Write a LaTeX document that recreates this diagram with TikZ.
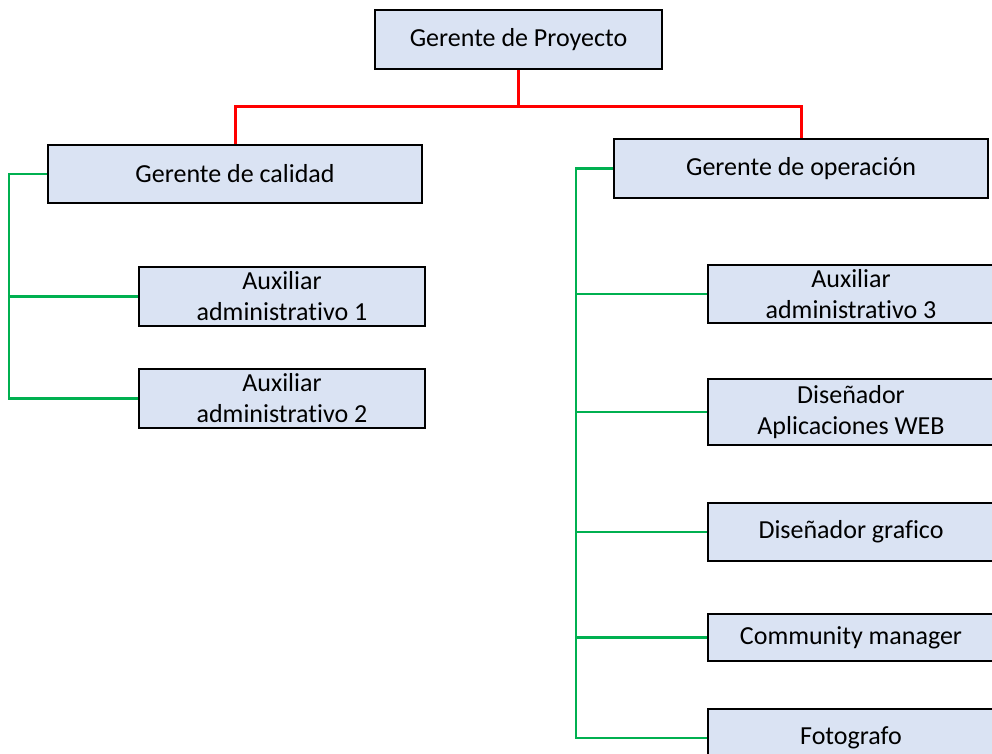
\documentclass[tikz,border=0pt]{standalone}
\usepackage{fontspec}
\setmainfont{Carlito}[Ligatures=NoCommon]
\usetikzlibrary{calc}
\definecolor{cajaazul}{HTML}{DAE3F3}
\definecolor{verdeorg}{HTML}{00B050}
\definecolor{rojoorg}{HTML}{FF0000}
\tikzset{
	caja/.style={draw=black, line width=2pt, fill=cajaazul, align=center, inner sep=0pt,
		font=\fontsize{26}{31}\selectfont},
	linearoja/.style={draw=rojoorg, line width=3pt},
	lineaverde/.style={draw=verdeorg, line width=2.2pt}
}
\begin{document}
\begin{tikzpicture}[x=1pt, y=-1pt]
			%%%%% START %%%%%
			
			\useasboundingbox (0, 0) rectangle (992, 753);
			\clip (0, 0) rectangle (992, 753);
			
			\coordinate (bus) at (518.5, 106);
			\coordinate (izq) at (9, 0);
			\coordinate (der) at (576, 0);
			
			\node[caja, minimum width=287, minimum height=59] (proy) at (518.5, 39.5) {Gerente de Proyecto};
			\node[caja, minimum width=374, minimum height=58] (cal) at (235, 174) {Gerente de calidad};
			\node[caja, minimum width=374, minimum height=59] (ope) at (801, 168.5) {Gerente de operación};
			
			\node[caja, minimum width=286, minimum height=59] (aux1) at (282, 296.5) {Auxiliar\\administrativo 1};
			\node[caja, minimum width=286, minimum height=59] (aux2) at (282, 398.5) {Auxiliar\\administrativo 2};
			
			\node[caja, minimum width=286, minimum height=58] (aux3) at (851, 294) {Auxiliar\\administrativo 3};
			\node[caja, minimum width=286, minimum height=66] (web) at (851, 412) {Diseñador\\Aplicaciones WEB};
			\node[caja, minimum width=286, minimum height=58] (graf) at (851, 532) {Diseñador grafico};
			\node[caja, minimum width=286, minimum height=47] (comm) at (851, 637.5) {Community manager};
			\node[caja, minimum width=286, minimum height=58] (foto) at (851, 738) {Fotografo};
			
			% rojo: proyecto a gerentes
			\draw[linearoja] (proy.south) -- (bus) -| (cal.north);
			\draw[linearoja] (bus) -| (ope.north);
			
			% verde: gerentes a auxiliares
			\draw[lineaverde] (cal.west) -- (cal.west -| izq) |- (aux2.west);
			\draw[lineaverde] (aux1.west -| izq) -- (aux1.west);
			
			\draw[lineaverde] (ope.west) -- (ope.west -| der) |- (foto.west);
			\foreach \n in {aux3, web, graf, comm}
				\draw[lineaverde] (\n.west -| der) -- (\n.west);
			
			%%%%% END %%%%%
\end{tikzpicture}
\end{document}
